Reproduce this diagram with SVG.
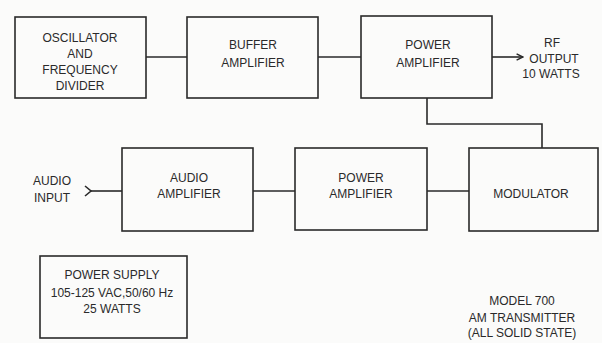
<svg xmlns="http://www.w3.org/2000/svg" width="602" height="343" viewBox="0 0 602 343">
<defs>
<style>
.box{fill:none;stroke:#2a2a2a;stroke-width:1.6}
.ln{fill:none;stroke:#2a2a2a;stroke-width:1.6}
text{font-family:"Liberation Sans",Arial,sans-serif;font-size:12px;fill:#2a2a2a;text-anchor:middle}
</style>
<marker id="arr" viewBox="0 0 10 10" refX="9" refY="5" markerWidth="8" markerHeight="8" markerUnits="userSpaceOnUse" orient="auto">
<path d="M1,1 L9,5 L1,9" fill="none" stroke="#2a2a2a" stroke-width="1.8"/>
</marker>
</defs>
<rect width="602" height="343" fill="#fbfbfa"/>
<g id="connectors">
<line class="ln" x1="146" y1="57" x2="187" y2="57"/>
<line class="ln" x1="318" y1="57" x2="361" y2="57"/>
<line class="ln" x1="492" y1="57" x2="523" y2="57" marker-end="url(#arr)"/>
<polyline class="ln" points="427,98 427,124 542,124 542,148"/>
<line class="ln" x1="253" y1="191" x2="295" y2="191"/>
<line class="ln" x1="427" y1="191" x2="469" y2="191"/>
<line class="ln" x1="122" y1="191" x2="90" y2="191"/>
<path class="ln" d="M85,186 L91,191 L85,196"/>
</g>
<g id="oscillator">
<rect class="box" x="15" y="17" width="131" height="81"/>
<text x="80" y="42">OSCILLATOR</text>
<text x="80" y="58">AND</text>
<text x="80" y="74">FREQUENCY</text>
<text x="80" y="90">DIVIDER</text>
</g>
<g id="buffer">
<rect class="box" x="187" y="17" width="131" height="81"/>
<text x="253" y="49">BUFFER</text>
<text x="253" y="67">AMPLIFIER</text>
</g>
<g id="power-amp">
<rect class="box" x="361" y="16" width="131" height="82"/>
<text x="428" y="49">POWER</text>
<text x="428" y="67">AMPLIFIER</text>
</g>
<g id="rf-output">
<text x="552" y="47">RF</text>
<text x="554" y="63">OUTPUT</text>
<text x="551" y="78">10 WATTS</text>
</g>
<g id="audio-input">
<text x="52" y="185">AUDIO</text>
<text x="52" y="202">INPUT</text>
</g>
<g id="audio-amp">
<rect class="box" x="122" y="148" width="131" height="83"/>
<text x="189" y="182">AUDIO</text>
<text x="189" y="198">AMPLIFIER</text>
</g>
<g id="power-amp-2">
<rect class="box" x="295" y="148" width="132" height="82"/>
<text x="361" y="182">POWER</text>
<text x="361" y="198">AMPLIFIER</text>
</g>
<g id="modulator">
<rect class="box" x="469" y="148" width="129" height="83"/>
<text x="531" y="198">MODULATOR</text>
</g>
<g id="power-supply">
<rect class="box" x="40" y="256" width="147" height="82"/>
<text x="112" y="279">POWER SUPPLY</text>
<text x="112" y="297">105-125 VAC,50/60 Hz</text>
<text x="112" y="313">25 WATTS</text>
</g>
<g id="title">
<text x="522" y="305">MODEL 700</text>
<text x="522" y="322">AM TRANSMITTER</text>
<text x="522" y="337">(ALL SOLID STATE)</text>
</g>
</svg>
